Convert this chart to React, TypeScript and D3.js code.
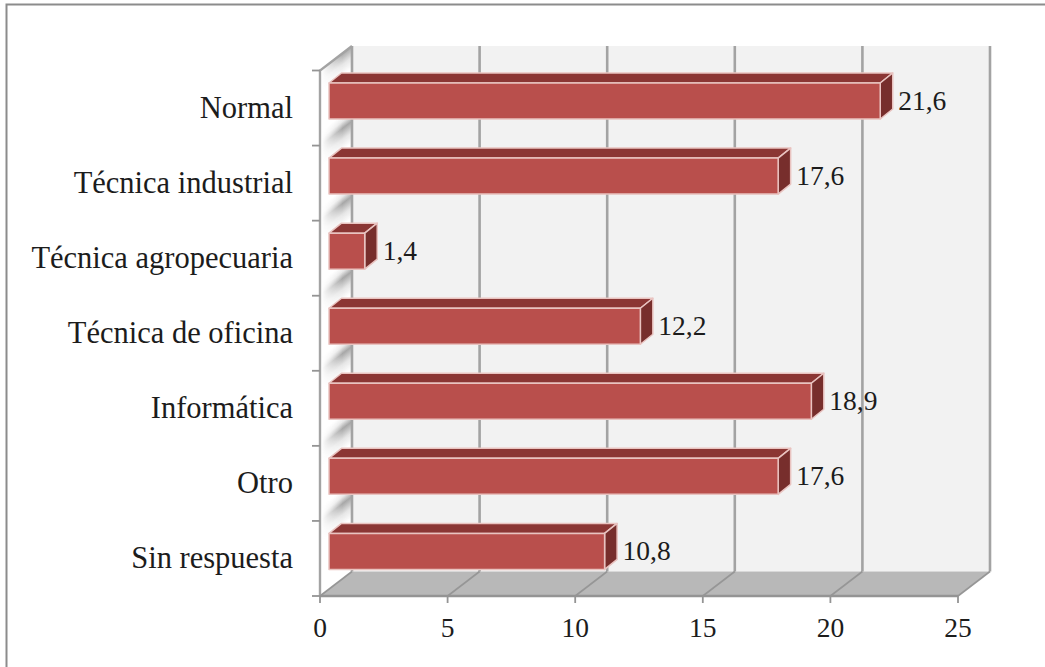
import React from "react";
import * as d3 from "d3";

const categories = ["Normal", "Técnica industrial", "Técnica agropecuaria", "Técnica de oficina", "Informática", "Otro", "Sin respuesta"];
const values = [21.6, 17.6, 1.4, 12.2, 18.9, 17.6, 10.8];
const valueLabels = ["21,6", "17,6", "1,4", "12,2", "18,9", "17,6", "10,8"];
const xTicks = [0, 5, 10, 15, 20, 25];

const WIDTH = 1045;
const HEIGHT = 667;
const FONT = "'Liberation Serif', serif";
const TEXT_COLOR = "#1c1c1c";
const DEPTH_X = 32;
const DEPTH_Y = -24.5;
const BAR_DX = 12.5;
const BAR_DY = -10;
const BAR_INSET_X = 9;
const BAR_INSET_Y = 12.5;
const BAR_H = 36;

const x = d3.scaleLinear().domain([0, 25]).range([320, 958]);
const y = d3.scaleBand<string>().domain(categories).range([70.5, 596]);
const poly = d3.line();

export default function App() {
  const step = y.step();
  const boundaries = d3.range(categories.length).map((i) => 70.5 + i * step);
  const x0 = x(0);
  const xMax = x(25);
  const yTop = y.range()[0];
  const yBot = y.range()[1];

  return (
    <svg width={WIDTH} height={HEIGHT} style={{ position: "absolute", left: 0, top: 0, background: "#fff" }}>
      <defs>
        <linearGradient id="edgeFade" gradientUnits="userSpaceOnUse" x1={x0} x2={x0 + DEPTH_X} y1={0} y2={0}>
          <stop offset="0.05" stopColor="#000" />
          <stop offset="0.7" stopColor="#fff" />
        </linearGradient>
        <mask id="wallMask" maskUnits="userSpaceOnUse" x={x0} y={0} width={DEPTH_X} height={HEIGHT}>
          <rect x={x0} y={0} width={DEPTH_X} height={HEIGHT} fill="url(#edgeFade)" />
        </mask>
        {boundaries.map((b, i) => (
          <linearGradient key={i} id={`wallShade${i}`} gradientUnits="userSpaceOnUse" x1={x0} y1={b - 14} x2={x0} y2={b + 22}>
            <stop offset="0" stopColor="#8f8f8f" stopOpacity={0} />
            <stop offset="0.2" stopColor="#8f8f8f" stopOpacity={i === 0 ? 0 : 0.2} />
            <stop offset="0.39" stopColor="#8f8f8f" stopOpacity={0.78} />
            <stop offset="0.7" stopColor="#8f8f8f" stopOpacity={0.22} />
            <stop offset="1" stopColor="#8f8f8f" stopOpacity={0} />
          </linearGradient>
        ))}
      </defs>

      {/* frame: only the top and left edges are drawn */}
      <path d={`M6.5,${HEIGHT} V4.5 H${WIDTH}`} fill="none" stroke="#8c8c8c" strokeWidth={2} />

      {/* back wall */}
      <rect x={x0 + DEPTH_X} y={yTop + DEPTH_Y} width={xMax - x0} height={yBot - yTop} fill="#f2f2f2" />

      {/* floor */}
      <path
        d={poly([[x0, yBot], [xMax, yBot], [xMax + DEPTH_X, yBot + DEPTH_Y], [x0 + DEPTH_X, yBot + DEPTH_Y]]) ?? ""}
        fill="#b8b8b8"
      />

      {/* side wall with a soft shade along every band boundary */}
      <path
        d={poly([[x0, yTop], [x0 + DEPTH_X, yTop + DEPTH_Y], [x0 + DEPTH_X, yBot + DEPTH_Y], [x0, yBot]]) ?? ""}
        fill="#fff"
      />
      <g mask="url(#wallMask)">
        {boundaries.map((b, i) => {
          const top = i === 0 ? b : b - 14;
          const bottom = b + 22;
          return (
            <g key={i} transform={`matrix(1,${DEPTH_Y / DEPTH_X},0,1,0,${(-x0 * DEPTH_Y) / DEPTH_X})`}>
              <rect x={x0} y={top} width={DEPTH_X} height={bottom - top} fill={`url(#wallShade${i})`} />
            </g>
          );
        })}
      </g>

      {/* grid on the back wall and the floor */}
      {xTicks.map((t) => (
        <g key={t} fill="none" stroke="#a3a3a3" strokeWidth={2.6}>
          <line x1={x(t) + DEPTH_X} x2={x(t) + DEPTH_X} y1={yTop + DEPTH_Y} y2={yBot + DEPTH_Y} />
          <line x1={x(t)} x2={x(t) + DEPTH_X} y1={yBot} y2={yBot + DEPTH_Y} strokeWidth={1.6} stroke="#969696" />
        </g>
      ))}

      {/* wall outline */}
      <path
        d={`M${x0},${yBot} V${yTop} L${x0 + DEPTH_X},${yTop + DEPTH_Y}`}
        fill="none"
        stroke="#a3a3a3"
        strokeWidth={2.4}
      />

      {/* front axes */}
      <line x1={x0} x2={xMax} y1={yBot} y2={yBot} stroke="#949494" strokeWidth={2.4} />
      {xTicks.map((t) => (
        <line key={t} x1={x(t)} x2={x(t)} y1={yBot} y2={yBot + 7} stroke="#949494" strokeWidth={1.8} />
      ))}
      {d3.range(categories.length + 1).map((i) => (
        <line key={i} x1={x0 - 8} x2={x0} y1={yTop + i * step} y2={yTop + i * step} stroke="#949494" strokeWidth={1.8} />
      ))}

      {/* bars */}
      {categories.map((c, i) => {
        const left = x(0) + BAR_INSET_X;
        const right = x(values[i]) + BAR_INSET_X;
        const top = (y(c) ?? 0) + BAR_INSET_Y;
        const bottom = top + BAR_H;
        const edge = { stroke: "#e9c3c0", strokeWidth: 1.5, strokeLinejoin: "round" as const };
        return (
          <g key={c}>
            <path
              d={poly([[left, top], [left + BAR_DX, top + BAR_DY], [right + BAR_DX, top + BAR_DY], [right, top]]) + "Z"}
              fill="#8b3634"
              {...edge}
            />
            <path
              d={poly([[right, top], [right + BAR_DX, top + BAR_DY], [right + BAR_DX, bottom + BAR_DY], [right, bottom]]) + "Z"}
              fill="#772e2c"
              {...edge}
            />
            <rect x={left} y={top} width={right - left} height={BAR_H} fill="#b94f4c" {...edge} />
            <text x={right + BAR_DX + 5.5} y={top + 27} fontFamily={FONT} fontSize={27.5} fill={TEXT_COLOR}>
              {valueLabels[i]}
            </text>
            <text
              x={293}
              y={(y(c) ?? 0) + step / 2 + 9.5}
              textAnchor="end"
              fontFamily={FONT}
              fontSize={30.5}
              fill={TEXT_COLOR}
            >
              {c}
            </text>
          </g>
        );
      })}

      {/* value axis labels */}
      {xTicks.map((t) => (
        <text key={t} x={x(t)} y={637} textAnchor="middle" fontFamily={FONT} fontSize={27.5} fill={TEXT_COLOR}>
          {t}
        </text>
      ))}
    </svg>
  );
}
